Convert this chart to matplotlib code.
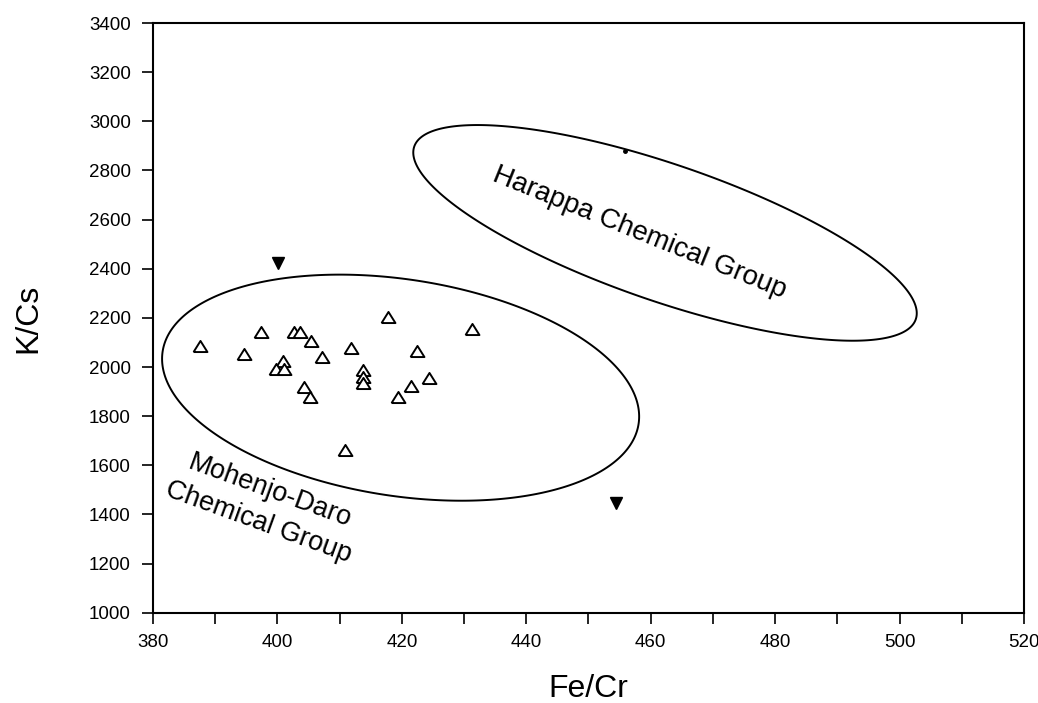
import numpy as np
import matplotlib
matplotlib.use("Agg")
import matplotlib.pyplot as plt
from matplotlib.patches import Polygon
from matplotlib.ticker import MultipleLocator, FuncFormatter

plt.rcParams['font.family'] = ['Liberation Sans', 'DejaVu Sans']

# ---- data ----
md_fe_cr = [387.6, 394.6, 397.3, 402.6, 403.6, 405.4, 400.9, 399.7, 401.0, 407.2,
            404.2, 405.3, 411.9, 417.7, 413.8, 413.8, 413.8, 422.4, 424.3, 421.4,
            419.4, 431.3, 410.8]
md_k_cs = [2087, 2053, 2141, 2141, 2141, 2107, 2023, 1992, 1992, 2040,
           1918, 1877, 2078, 2205, 1988, 1961, 1934, 2067, 1956, 1922,
           1877, 2155, 1664]

other_fe_cr = [400.1, 454.5]
other_k_cs = [2425, 1445]

dot_fe_cr = [455.8]
dot_k_cs = [2879]

# group ellipses: centre, two conjugate semi-axis vectors (data units)
md_centre = (419.8, 1916.0)
md_axis_a = (38.25, -147.8)
md_axis_b = (-2.64, -435.7)

h_centre = (462.3, 2546.0)
h_axis_a = (40.3, -352.0)
h_axis_b = (-3.64, -262.2)

x_range = (380, 520)
y_range = (1000, 3400)

# ---- figure ----
fig = plt.figure(figsize=(10.38, 7.03), dpi=100)
ax = fig.add_axes([0.1474, 0.1284, 0.8391, 0.8388])

t = np.linspace(0, 2 * np.pi, 400, endpoint=False)
for c, a, b in [(md_centre, md_axis_a, md_axis_b), (h_centre, h_axis_a, h_axis_b)]:
    ex = c[0] + a[0] * np.cos(t) + b[0] * np.sin(t)
    ey = c[1] + a[1] * np.cos(t) + b[1] * np.sin(t)
    ax.add_patch(Polygon(np.column_stack([ex, ey]), closed=True, fill=False,
                         edgecolor='black', lw=1.4, joinstyle='round'))

tri = [(-1, -0.8), (1, -0.8), (0, 0.8), (-1, -0.8)]
ax.plot(md_fe_cr, md_k_cs, linestyle='none', marker=tri, ms=10,
        mfc='white', mec='black', mew=1.4)
ax.plot(other_fe_cr, other_k_cs, linestyle='none', marker='v', ms=8,
        mfc='black', mec='black')
ax.plot(dot_fe_cr, dot_k_cs, linestyle='none', marker='o', ms=2.5,
        mfc='black', mec='black')

ax.text(458.2, 2547, 'Harappa Chemical Group', fontsize=20, rotation=-22,
        rotation_mode='anchor', ha='center', va='center')
ax.text(397.9, 1433, 'Mohenjo-Daro\nChemical Group', fontsize=19.5, rotation=-20,
        rotation_mode='anchor', ha='center', va='center', multialignment='center',
        linespacing=1.35)

ax.set_xlim(*x_range)
ax.set_ylim(*y_range)
ax.xaxis.set_major_locator(MultipleLocator(10))
ax.xaxis.set_major_formatter(FuncFormatter(lambda v, p: f"{int(round(v))}" if int(round(v)) % 20 == 0 else ""))
ax.yaxis.set_major_locator(MultipleLocator(200))

ax.tick_params(axis='both', direction='out', length=8, width=1.2, labelsize=13.5)
ax.tick_params(axis='x', pad=7)
ax.tick_params(axis='y', pad=8)
for s in ax.spines.values():
    s.set_linewidth(1.5)

ax.set_xlabel('Fe/Cr', fontsize=23, labelpad=17)
ax.set_ylabel('K/Cs', fontsize=23, labelpad=33)

fig.savefig('out.png', dpi=100)
